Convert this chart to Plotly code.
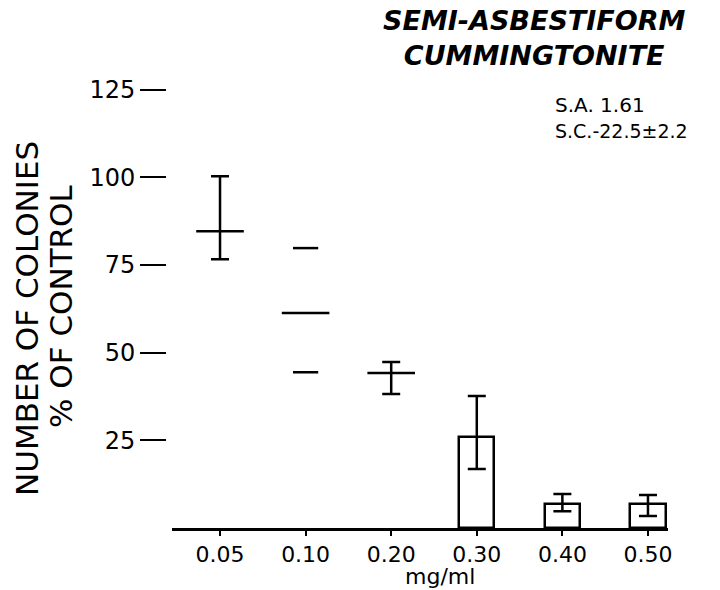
import plotly.graph_objects as go

# ---- data ----
doses = ["0.05", "0.10", "0.20", "0.30", "0.40", "0.50"]
mean_pct = [84.6, 61.3, 44.2, 26.0, 6.8, 6.8]
err_plus = [15.7, 18.5, 3.1, 11.6, 2.9, 2.6]
err_minus = [8.0, 16.9, 6.0, 9.2, 2.0, 3.4]
bar_doses = ["0.30", "0.40", "0.50"]          # drawn as open bars
point_doses = ["0.05", "0.10", "0.20"]        # drawn as a mean dash
no_stem_doses = ["0.10"]                      # caps without vertical stem
y_ticks = [25, 50, 75, 100, 125]

FONT = "DejaVu Sans"
BLACK = "#000000"

idx = {d: i for i, d in enumerate(doses)}

fig = go.Figure()

# open bars
fig.add_trace(go.Bar(
    x=bar_doses,
    y=[mean_pct[idx[d]] for d in bar_doses],
    width=0.41,
    marker=dict(color="white", line=dict(color=BLACK, width=2.5)),
    showlegend=False, hoverinfo="skip",
))

# error bars with vertical stems
stem = [d for d in doses if d not in no_stem_doses]
fig.add_trace(go.Scatter(
    x=stem,
    y=[mean_pct[idx[d]] for d in stem],
    mode="markers",
    marker=dict(size=1, color="rgba(0,0,0,0)"),
    error_y=dict(type="data", symmetric=False,
                 array=[err_plus[idx[d]] for d in stem],
                 arrayminus=[err_minus[idx[d]] for d in stem],
                 color=BLACK, thickness=2.5, width=9),
    showlegend=False, hoverinfo="skip",
))

# caps only (no stem)
cap_x, cap_y = [], []
for d in no_stem_doses:
    i = idx[d]
    cap_x += [d, d]
    cap_y += [mean_pct[i] + err_plus[i], mean_pct[i] - err_minus[i]]
fig.add_trace(go.Scatter(
    x=cap_x, y=cap_y, mode="markers",
    marker=dict(symbol="line-ew", size=18, line=dict(color=BLACK, width=2.5)),
    showlegend=False, hoverinfo="skip",
))

# mean dashes
fig.add_trace(go.Scatter(
    x=point_doses,
    y=[mean_pct[idx[d]] for d in point_doses],
    mode="markers",
    marker=dict(symbol="line-ew", size=34, line=dict(color=BLACK, width=2.5)),
    showlegend=False, hoverinfo="skip",
))

L, R, T, B = 166, 52, 72, 62
W, H = 720, 590
pw = W - L - R
ph = H - T - B


def px(x):
    return (x - L) / pw


def py(y):
    return (H - B - y) / ph


fig.update_layout(
    width=W, height=H,
    margin=dict(l=L, r=R, t=T, b=B, pad=0),
    plot_bgcolor="white", paper_bgcolor="white",
    font=dict(family=FONT, color=BLACK),
    bargap=0,
    xaxis=dict(
        type="category", categoryorder="array", categoryarray=doses,
        range=[-0.561, 5.234], domain=[6 / pw, 1],
        showline=True, linecolor=BLACK, linewidth=2.5,
        ticks="outside", ticklen=5, tickwidth=2, tickcolor=BLACK,
        tickfont=dict(family=FONT, size=22, color=BLACK),
        showgrid=False, zeroline=False,
    ),
    yaxis=dict(
        range=[0, 130], anchor="free", position=0,
        tickvals=y_ticks, ticktext=[str(v) for v in y_ticks],
        showline=False, ticks="outside", ticklen=26, tickwidth=2,
        tickcolor=BLACK,
        tickfont=dict(family=FONT, size=24, color=BLACK),
        showgrid=False, zeroline=False,
    ),
    annotations=[
        dict(text="<b><i>SEMI-ASBESTIFORM<br>CUMMINGTONITE</i></b>",
             x=px(534), y=py(38.5), align="center",
             xref="paper", yref="paper", xanchor="center", yanchor="middle",
             showarrow=False, font=dict(family=FONT, size=27, color=BLACK)),
        dict(text="S.A. 1.61", x=px(553), y=py(104.5),
             xref="paper", yref="paper", xanchor="left", yanchor="middle",
             showarrow=False, font=dict(family=FONT, size=20, color=BLACK)),
        dict(text="S.C.-22.5±2.2", x=px(553), y=py(131),
             xref="paper", yref="paper", xanchor="left", yanchor="middle",
             showarrow=False, font=dict(family=FONT, size=19, color=BLACK)),
        dict(text="NUMBER OF COLONIES", x=px(27), y=py(319), textangle=-90,
             xref="paper", yref="paper", xanchor="center", yanchor="middle",
             showarrow=False, font=dict(family=FONT, size=31, color=BLACK)),
        dict(text="% OF CONTROL", x=px(61), y=py(306), textangle=-90,
             xref="paper", yref="paper", xanchor="center", yanchor="middle",
             showarrow=False, font=dict(family=FONT, size=31, color=BLACK)),
        dict(text="mg/ml", x=px(440), y=py(576),
             xref="paper", yref="paper", xanchor="center", yanchor="middle",
             showarrow=False, font=dict(family=FONT, size=22, color=BLACK)),
    ],
)

fig.write_html("out.html")
